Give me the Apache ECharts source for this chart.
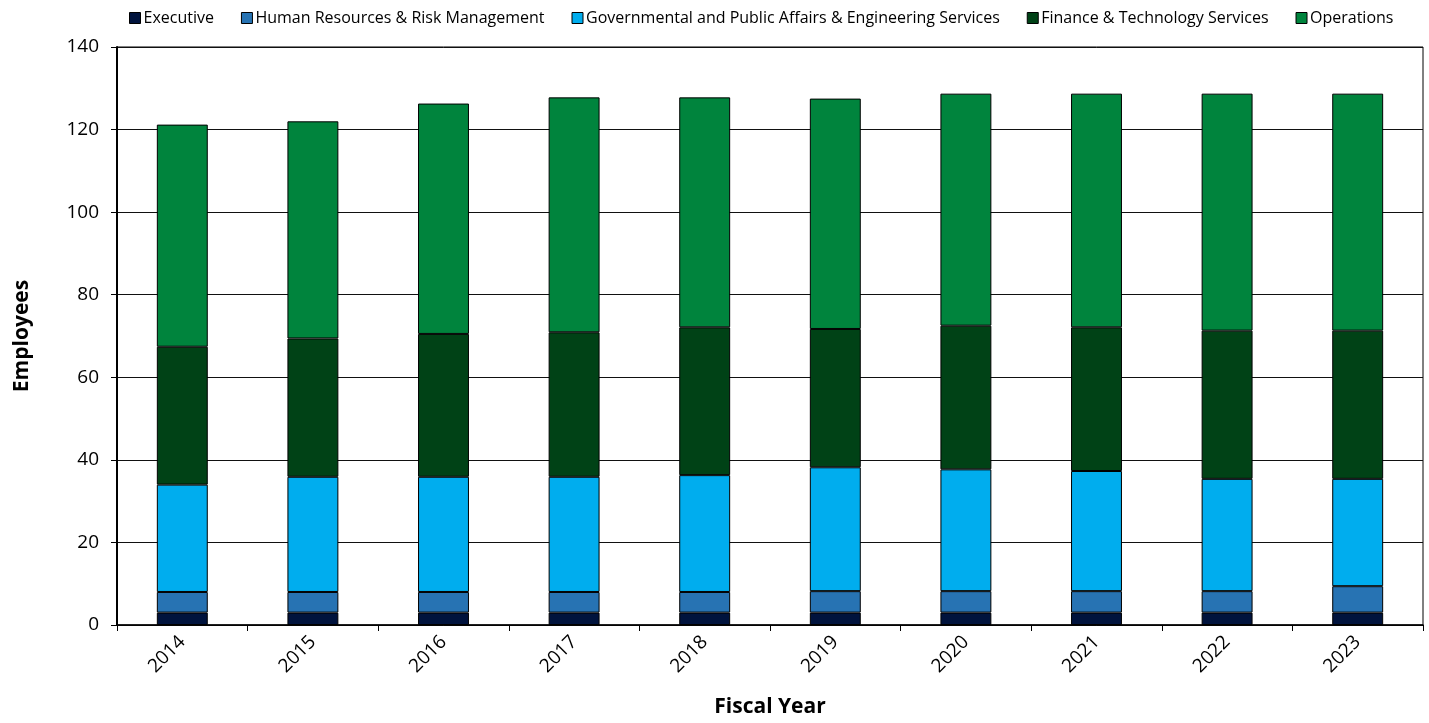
<!DOCTYPE html>
<html>
<head>
<meta charset="utf-8">
<script src="https://cdn.jsdelivr.net/npm/echarts@6/dist/echarts.min.js"></script>
<style>
  html, body { margin: 0; padding: 0; background: #fff; }
  #chart { width: 1429px; height: 723px; }
</style>
</head>
<body>
<div id="chart"></div>
<script>
// Fiscal years on the category axis
const years = ['2014', '2015', '2016', '2017', '2018', '2019', '2020', '2021', '2022', '2023'];

// Employees per department, stacked from the bottom up
const executive   = [3, 3, 3, 3, 3, 3, 3, 3, 3, 3];
const humanRes    = [5, 5, 5, 5, 5, 5.2, 5.2, 5.2, 5.2, 6.4];
const govPublic   = [26, 27.9, 27.9, 27.9, 28.3, 30, 29.5, 29.1, 27.2, 26];
const financeTech = [33.4, 33.5, 34.6, 35, 35.8, 33.5, 34.8, 34.8, 35.9, 35.9];
const operations  = [53.8, 52.6, 55.8, 56.9, 55.7, 55.8, 56.2, 56.6, 57.4, 57.4];

// Value-axis ticks
const yTicks = [0, 20, 40, 60, 80, 100, 120, 140];

const seriesDefs = [
  { name: 'Executive', data: executive, color: '#00133d' },
  { name: 'Human Resources & Risk Management', data: humanRes, color: '#2773b3' },
  { name: 'Governmental and Public Affairs & Engineering Services', data: govPublic, color: '#00adee' },
  { name: 'Finance & Technology Services', data: financeTech, color: '#004216' },
  { name: 'Operations', data: operations, color: '#00843d' }
];

const font = '"Open Sans", "Noto Sans", sans-serif';

const chart = echarts.init(document.getElementById('chart'), null, { renderer: 'canvas' });

chart.setOption({
  animation: false,
  backgroundColor: '#ffffff',
  textStyle: { fontFamily: font },
  legend: {
    top: 5,
    left: 124,
    itemWidth: 11,
    itemHeight: 11,
    itemGap: 27,
    icon: 'rect',
    textStyle: { fontFamily: font, fontSize: 16, color: '#000', padding: [0, 0, 0, -2] },
    data: seriesDefs.map(s => ({ name: s.name, itemStyle: { borderColor: '#000', borderWidth: 1 } }))
  },
  grid: {
    left: 117,
    right: 6,
    top: 47,
    bottom: 98,
    outerBoundsMode: 'none',
    containLabel: false,
    show: true,
    borderColor: '#000',
    borderWidth: 1,
    backgroundColor: 'transparent'
  },
  xAxis: {
    type: 'category',
    data: years,
    name: 'Fiscal Year',
    nameLocation: 'middle',
    nameGap: 72,
    nameTextStyle: { fontFamily: font, fontSize: 21, fontWeight: 'bold', color: '#000' },
    axisLine: { lineStyle: { color: '#000', width: 1.5 } },
    axisTick: { show: true, alignWithLabel: false, length: 6, lineStyle: { color: '#000' } },
    axisLabel: { rotate: 45, fontFamily: font, fontSize: 19, color: '#000', margin: 14 }
  },
  yAxis: {
    type: 'value',
    min: yTicks[0],
    max: yTicks[yTicks.length - 1],
    interval: yTicks[1] - yTicks[0],
    name: 'Employees',
    nameLocation: 'middle',
    nameGap: 84,
    nameRotate: 90,
    nameTextStyle: { fontFamily: font, fontSize: 21, fontWeight: 'bold', color: '#000' },
    axisLine: { show: true, lineStyle: { color: '#000', width: 2 } },
    axisTick: { show: true, length: 6, lineStyle: { color: '#000' } },
    axisLabel: { fontFamily: font, fontSize: 19, color: '#000', margin: 18 },
    splitLine: { show: true, lineStyle: { color: '#111', width: 1 } }
  },
  series: seriesDefs.map(s => ({
    name: s.name,
    type: 'bar',
    stack: 'staff',
    data: s.data,
    barWidth: '39%',
    itemStyle: { color: s.color, borderColor: '#000', borderWidth: 1 }
  }))
});
</script>
</body>
</html>
